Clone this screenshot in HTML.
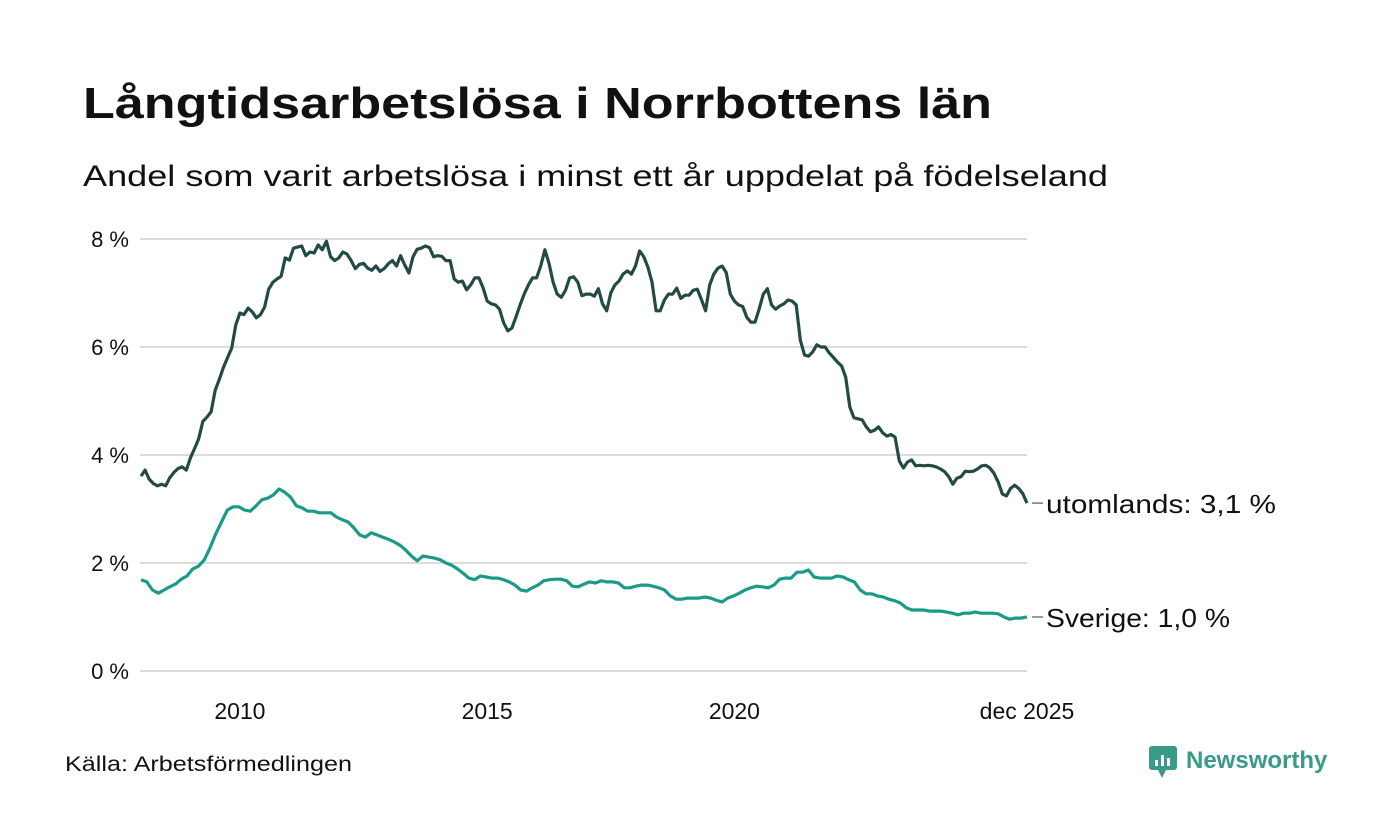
<!DOCTYPE html>
<html><head><meta charset="utf-8">
<style>
html,body{margin:0;padding:0;background:#fff;}
svg{display:block;font-family:"Liberation Sans",sans-serif;}
</style></head>
<body>
<svg id="chart" width="1400" height="840" viewBox="0 0 1400 840">
  <text x="83" y="118" font-size="44" font-weight="bold" fill="#111" textLength="909" lengthAdjust="spacingAndGlyphs">Långtidsarbetslösa i Norrbottens län</text>
  <text x="83" y="186" font-size="30" fill="#111" textLength="1025" lengthAdjust="spacingAndGlyphs">Andel som varit arbetslösa i minst ett år uppdelat på födelseland</text>
  <g id="grid"></g>
  <g id="yaxis"></g>
  <g id="xaxis"></g>
  <g id="series"></g>
  <g id="labels"></g>
  <text x="65" y="771" font-size="21" fill="#111" textLength="287" lengthAdjust="spacingAndGlyphs">Källa: Arbetsförmedlingen</text>
  <g>
    <rect x="1149" y="746" width="28" height="24" rx="3" fill="#3a9a8a"/>
    <polygon points="1158,770 1166,770 1162,778" fill="#3a9a8a"/>
    <rect x="1155" y="760" width="3" height="6" fill="#fff"/>
    <rect x="1161" y="755" width="3" height="11" fill="#fff"/>
    <rect x="1167" y="758" width="3" height="8" fill="#fff"/>
    <text x="1186" y="768" font-size="24" font-weight="bold" fill="#3a9a8a">Newsworthy</text>
  </g>
</svg>
<script>
const NS="http://www.w3.org/2000/svg";
const yTicks=[0,2,4,6,8];
const yTickLabels=["0 %","2 %","4 %","6 %","8 %"];
const xTicks=[2010,2015,2020,2025.917];
const xTickLabels=["2010","2015","2020","dec 2025"];
const startYear=2008.0, endYear=2025.917;
const utomlands=[3.61,3.72,3.55,3.47,3.43,3.46,3.43,3.58,3.68,3.75,3.78,3.72,
3.95,4.12,4.3,4.62,4.7,4.8,5.2,5.4,5.62,5.8,5.98,6.41,
6.63,6.6,6.72,6.65,6.54,6.6,6.74,7.07,7.2,7.26,7.31,7.65,
7.61,7.83,7.85,7.87,7.69,7.76,7.74,7.89,7.8,7.96,7.67,7.6,
7.65,7.76,7.72,7.6,7.45,7.53,7.55,7.46,7.42,7.5,7.4,7.45,
7.54,7.6,7.5,7.69,7.52,7.37,7.67,7.81,7.83,7.87,7.84,7.67,
7.69,7.68,7.6,7.6,7.26,7.2,7.22,7.06,7.15,7.28,7.28,7.1,
6.85,6.8,6.78,6.7,6.45,6.3,6.35,6.56,6.78,6.98,7.15,7.28,
7.28,7.5,7.8,7.55,7.2,6.98,6.92,7.05,7.28,7.3,7.2,6.95,
6.98,6.98,6.94,7.08,6.8,6.67,7.0,7.15,7.22,7.35,7.41,7.35,
7.5,7.78,7.67,7.48,7.2,6.67,6.67,6.87,6.98,6.98,7.09,6.9,
6.96,6.96,7.05,7.07,6.88,6.67,7.15,7.35,7.46,7.5,7.38,6.98,
6.85,6.78,6.75,6.55,6.46,6.46,6.7,6.98,7.08,6.78,6.7,6.76,
6.8,6.87,6.85,6.78,6.13,5.85,5.83,5.91,6.04,6.0,6.0,5.89,
5.81,5.72,5.65,5.44,4.89,4.69,4.67,4.65,4.52,4.43,4.46,4.52,
4.41,4.35,4.38,4.33,3.89,3.76,3.87,3.91,3.8,3.81,3.8,3.81,
3.8,3.78,3.74,3.69,3.6,3.46,3.57,3.6,3.7,3.69,3.7,3.74,
3.8,3.81,3.76,3.66,3.5,3.28,3.24,3.38,3.44,3.38,3.28,3.11];
const sverige=[1.69,1.65,1.5,1.44,1.5,1.56,1.61,1.7,1.76,1.89,1.94,2.06,2.28,2.54,2.76,2.98,3.04,3.04,2.98,2.96,3.06,3.17,3.2,3.26,3.37,3.31,3.22,3.06,3.02,2.96,2.96,2.93,2.93,2.93,2.85,2.8,2.76,2.65,2.52,2.48,2.56,2.52,2.48,2.44,2.39,2.33,2.24,2.13,2.04,2.13,2.11,2.09,2.06,2.0,1.96,1.89,1.81,1.72,1.69,1.76,1.74,1.72,1.72,1.69,1.65,1.59,1.5,1.48,1.54,1.59,1.67,1.69,1.7,1.7,1.67,1.57,1.56,1.61,1.65,1.63,1.67,1.65,1.65,1.63,1.54,1.54,1.57,1.59,1.59,1.57,1.54,1.5,1.39,1.33,1.33,1.35,1.35,1.35,1.37,1.35,1.31,1.28,1.35,1.39,1.44,1.5,1.54,1.57,1.56,1.54,1.59,1.7,1.72,1.72,1.83,1.83,1.87,1.74,1.72,1.72,1.72,1.76,1.74,1.69,1.65,1.5,1.43,1.43,1.39,1.37,1.33,1.3,1.26,1.17,1.13,1.13,1.13,1.11,1.11,1.11,1.09,1.07,1.04,1.07,1.07,1.09,1.07,1.07,1.07,1.06,1.0,0.96,0.98,0.98,1.0];
const seriesNames=["utomlands","sverige"];
const seriesLabels=["utomlands: 3,1 %","Sverige: 1,0 %"];
const labelWidths=[230,184];

const X0=141,X1=1027,Y0=671,PX_PER=54;
const xScale=t=>X0+(t-startYear)/(endYear-startYear)*(X1-X0);
const yScale=v=>Y0-v*PX_PER;

const grid=document.getElementById('grid'),yax=document.getElementById('yaxis'),xax=document.getElementById('xaxis');
yTicks.forEach((v,i)=>{
  const l=document.createElementNS(NS,'line');
  l.setAttribute('x1',140);l.setAttribute('x2',1027);
  l.setAttribute('y1',yScale(v));l.setAttribute('y2',yScale(v));
  l.setAttribute('stroke','#dcdcdc');l.setAttribute('stroke-width',2);
  
  
  grid.appendChild(l);
  const t=document.createElementNS(NS,'text');
  t.setAttribute('x',129);t.setAttribute('y',yScale(v)+8);
  t.setAttribute('text-anchor','end');t.setAttribute('font-size',22);t.setAttribute('fill','#111');
  t.textContent=yTickLabels[i];
  
  
  yax.appendChild(t);
});
xTicks.forEach((v,i)=>{
  const t=document.createElementNS(NS,'text');
  t.setAttribute('x',xScale(v));t.setAttribute('y',719);
  t.setAttribute('text-anchor','middle');t.setAttribute('font-size',23);t.setAttribute('fill','#111');
  t.textContent=xTickLabels[i];
  
  
  xax.appendChild(t);
});
const sg=document.getElementById('series'),lg=document.getElementById('labels');
const allData=[utomlands,sverige],colors=["#234a44","#1a9a88"];
allData.forEach((arr,si)=>{
  const n=arr.length;
  const pts=arr.map((v,i)=>{const t=startYear+i*(endYear-startYear)/(n-1);return xScale(t).toFixed(1)+','+yScale(v).toFixed(1);});
  const p=document.createElementNS(NS,'polyline');
  p.setAttribute('points',pts.join(' '));
  p.setAttribute('fill','none');p.setAttribute('stroke',colors[si]);p.setAttribute('stroke-width',3.2);
  p.setAttribute('stroke-linejoin','round');
  
  
  sg.appendChild(p);
  const ly=yScale(arr[n-1]);
  const tick=document.createElementNS(NS,'line');
  tick.setAttribute('x1',1032);tick.setAttribute('x2',1043);tick.setAttribute('y1',ly);tick.setAttribute('y2',ly);
  tick.setAttribute('stroke','#333');tick.setAttribute('stroke-width',1);
  
  
  lg.appendChild(tick);
  const t=document.createElementNS(NS,'text');
  t.setAttribute('x',1046);t.setAttribute('y',ly+10);t.setAttribute('font-size',26);t.setAttribute('fill','#111');
  t.setAttribute('textLength',labelWidths[si]);t.setAttribute('lengthAdjust','spacingAndGlyphs');
  t.textContent=seriesLabels[si];
  
  
  lg.appendChild(t);
});
</script>
</body></html>
